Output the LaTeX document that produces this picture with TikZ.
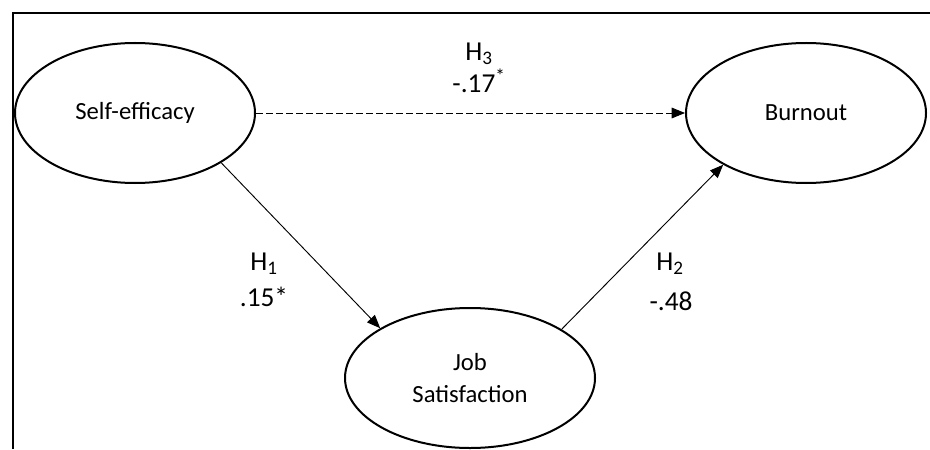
\documentclass[tikz,border=0pt]{standalone}
\usepackage{fontspec}
\setmainfont{Carlito}
\usetikzlibrary{shapes.geometric,arrows.meta}
\begin{document}
\begin{tikzpicture}[x=0.75pt,y=-0.75pt,
  latent/.style={ellipse,draw,line width=1.5pt,inner sep=0pt,minimum width=180pt,minimum height=105pt,font=\fontsize{18.5}{24}\selectfont,align=center},
  path/.style={line width=0.7pt,-{Triangle[length=10pt,width=8pt]}},
  lbl/.style={font=\fontsize{20.5}{24}\selectfont,align=center,inner sep=0pt}]
\useasboundingbox (0,0) rectangle (930,449);
\draw[line width=1.8pt] (13,449) -- (13,13) -- (930,13);
\node[latent] (se) at (135,113) {Self-efficacy};
\node[latent] (bo) at (806,113) {Burnout};
\node[latent,minimum width=187.5pt] (js) at (470,378) {Job\\Satisfaction};
\draw[path,dash pattern=on 5pt off 2.5pt] (se.east) -- (bo.west);
\draw[path] (se.-30.5) -- (js.151);
\draw[path] (js.28.5) -- (bo.-148);
\node[lbl] (h3) at (479,54) {H\textsubscript{3}};
\node[lbl] (c3) at (479,81) {-.17\textsuperscript{*}};
\node[lbl] (h1) at (264,264) {H\textsubscript{1}};
\node[lbl] (c1) at (264,297) {.15*};
\node[lbl] (h2) at (670,264) {H\textsubscript{2}};
\node[lbl] (c2) at (671,301) {-.48};
\end{tikzpicture}
\end{document}
